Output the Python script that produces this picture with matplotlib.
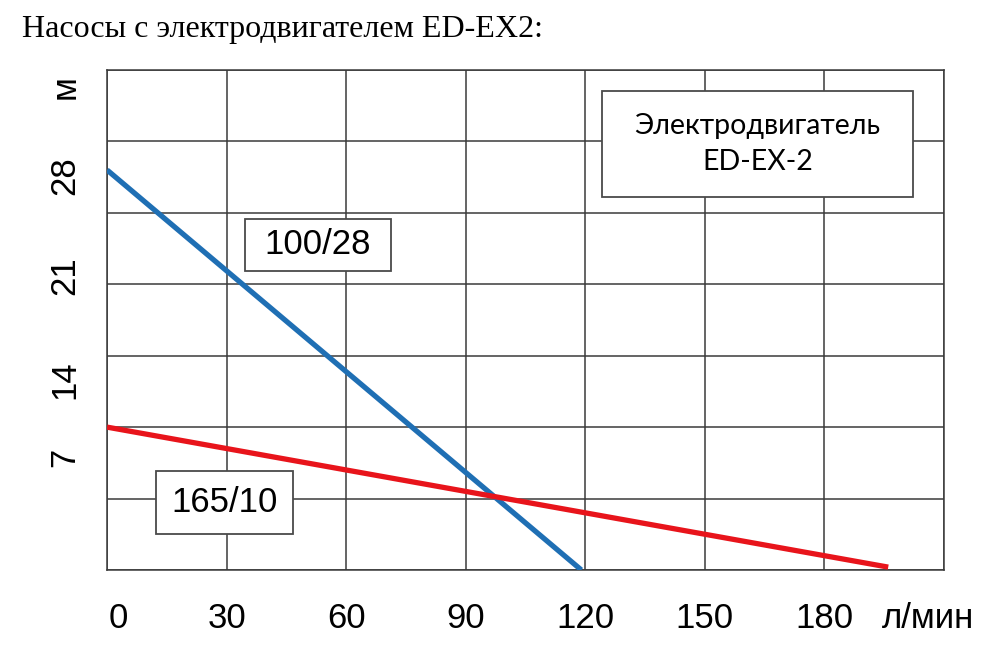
import matplotlib
matplotlib.use("Agg")
import matplotlib.pyplot as plt
from matplotlib.patches import Rectangle

# --- данные ---
flow_100 = [0, 119]      # л/мин
head_100 = [28, 0]       # м
flow_165 = [0, 196]
head_165 = [10, 0.2]

x_ticks = [0, 30, 60, 90, 120, 150, 180]
y_ticks = [7, 14, 21, 28]
y_tick_pos = [7.9, 13.3, 20.6, 27.6]   # подписи в оригинале стоят чуть со сдвигом

title = "Насосы с электродвигателем ED-EX2:"
x_unit = "л/мин"
y_unit = "м"

BLUE = "#1f6fb4"
RED = "#e8141b"
GRID = "#3a3a3a"
SANS = "Liberation Sans"

fig = plt.figure(figsize=(10.06, 6.52), dpi=100)
ax = fig.add_axes([0.1064, 0.1258, 0.832, 0.7669])

ax.set_xlim(0, 210)
ax.set_ylim(0, 35)
ax.set_xticks(range(0, 211, 30))
ax.set_yticks(range(0, 36, 5))
ax.grid(True, color=GRID, linewidth=1.1)
ax.tick_params(length=0, labelbottom=False, labelleft=False)
for s in ax.spines.values():
    s.set_color(GRID)
    s.set_linewidth(1.1)
ax.set_axisbelow(True)

ax.plot(flow_100, head_100, color=BLUE, linewidth=3.8, solid_capstyle="butt", zorder=3)
ax.plot(flow_165, head_165, color=RED, linewidth=3.8, solid_capstyle="butt", zorder=3)

# подписи осей (текстом, как в оригинале)
xt = ax.get_xaxis_transform()
for v in x_ticks:
    xp = v + (2.8 if v == 0 else 0)
    ax.text(xp, -0.098, str(v), transform=xt, ha="center", va="center",
            fontsize=25, family=SANS)
ax.text(206, -0.098, x_unit, transform=xt, ha="center", va="center",
        fontsize=25, family=SANS, clip_on=False)

yt = ax.get_yaxis_transform()
for v, p in zip(y_ticks, y_tick_pos):
    ax.text(-0.050, p, str(v), transform=yt, ha="center", va="center",
            rotation=90, fontsize=25, family=SANS)
ax.text(-0.050, 33.8, y_unit, transform=yt, ha="center", va="center",
        rotation=90, fontsize=25, family=SANS)


def box(x0, x1, y0, y1, text, **kw):
    ax.add_patch(Rectangle((x0, y0), x1 - x0, y1 - y0, facecolor="white",
                           edgecolor="#4a4a4a", linewidth=1.3, zorder=4))
    ax.text((x0 + x1) / 2, (y0 + y1) / 2, text, ha="center", va="center",
            zorder=5, **kw)


box(34.6, 71.2, 20.9, 24.6, "100/28", fontsize=25, family=SANS)
box(12.3, 46.7, 2.5, 6.9, "165/10", fontsize=25, family=SANS)
box(124.2, 202.2, 26.1, 33.5, "Электродвигатель\nED-EX-2",
    fontsize=20.5, family="Lato", linespacing=1.5)

fig.text(22 / 1006, 1 - 30 / 652, title, ha="left", va="center",
         fontsize=23, family="Liberation Serif")

fig.savefig("out.png", dpi=100)
